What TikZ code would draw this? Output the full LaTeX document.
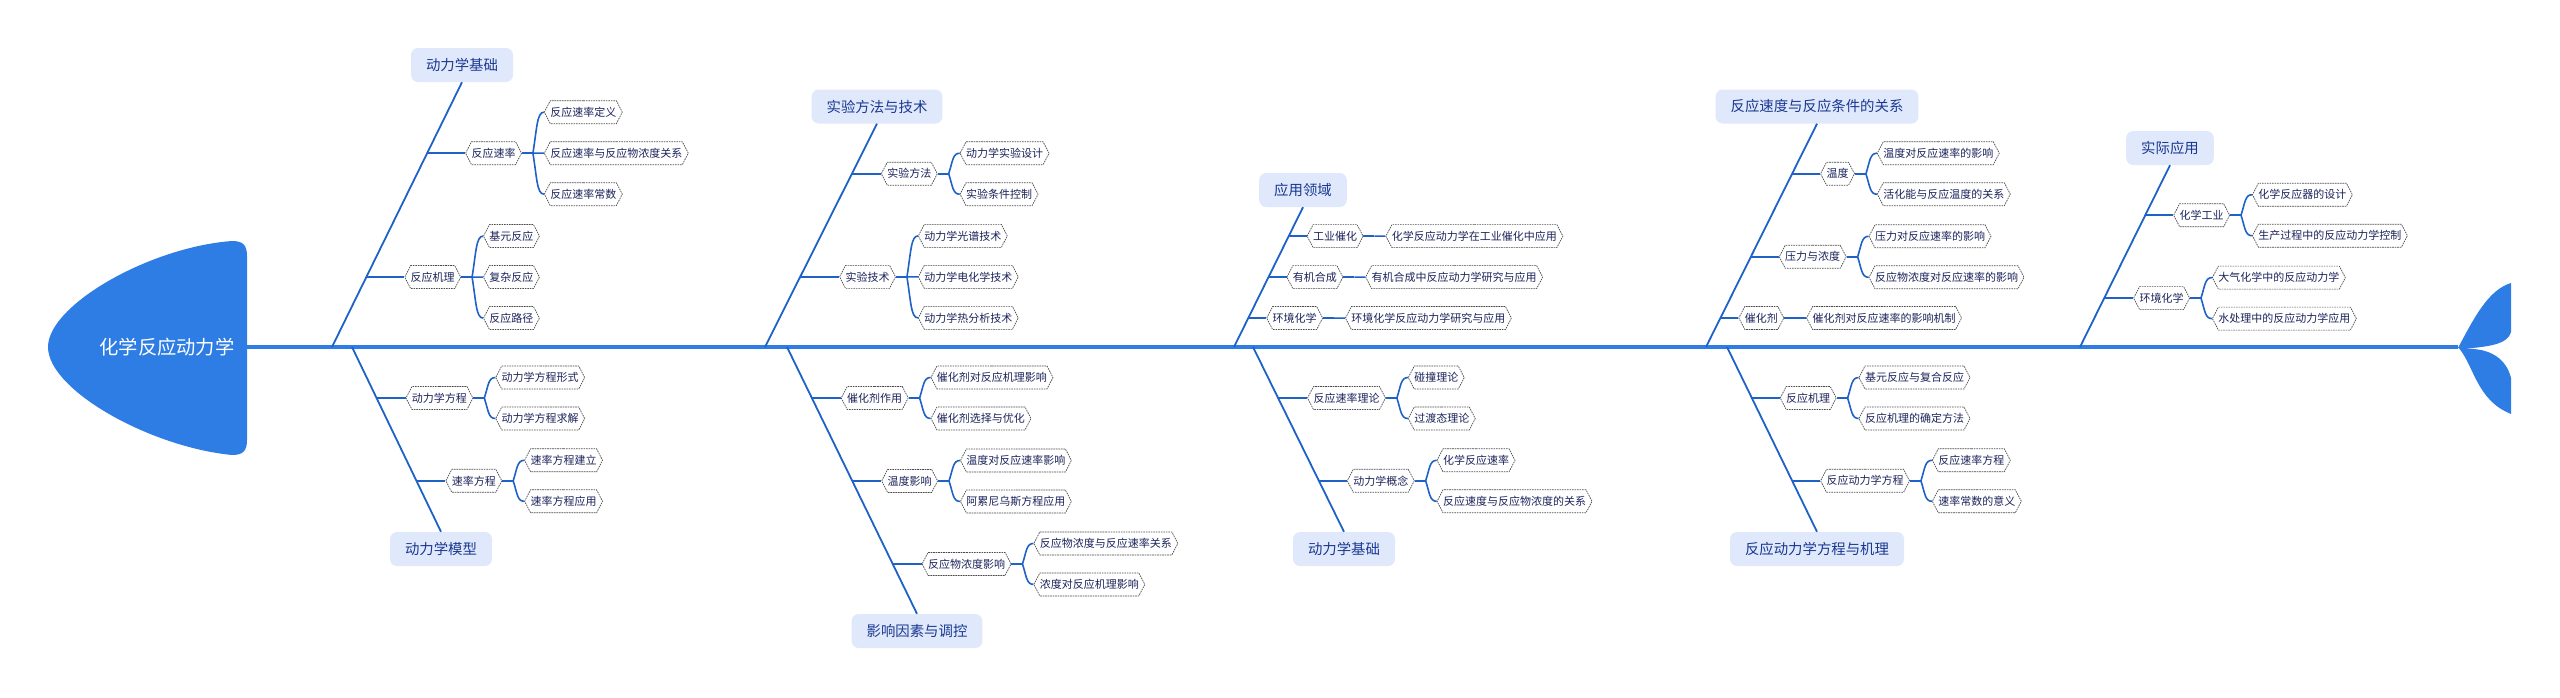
\documentclass[tikz,border=0pt]{standalone}
\usepackage{fontspec}
\newfontfamily\cjk{Noto Sans CJK SC}
\usetikzlibrary{shapes.symbols, positioning, calc}

\definecolor{spineblue}{RGB}{46,125,228}
\definecolor{bonebl}{RGB}{30,98,200}
\definecolor{titlebg}{RGB}{224,233,251}
\definecolor{titletxt}{RGB}{26,56,146}
\definecolor{leaftxt}{RGB}{28,36,90}

\begin{document}
\begin{tikzpicture}[
    x=1pt, y=-1pt,
    every node/.style={font=\cjk},
    hexa/.style={signal, signal to=east and west, signal pointer angle=125, draw=black!70, dash pattern=on 1.6pt off 0.9pt, line width=0.7pt, fill=white, text=leaftxt, font=\cjk\fontsize{11}{12}\selectfont, inner xsep=0pt, inner ysep=0pt, minimum height=23pt},
    title/.style={fill=titlebg, rounded corners=7pt, text=titletxt, font=\cjk\fontsize{14.4}{16}\selectfont, inner xsep=15pt, inner ysep=0pt, minimum height=34pt},
    bone/.style={draw=bonebl, line width=1.8pt},
    twig/.style={draw=bonebl, line width=1.6pt},
    spine/.style={draw=spineblue, line width=4.5pt}
]
\useasboundingbox (0,0) rectangle (2560,697);

% Spine, head and tail
\coordinate (headR) at (247,347);
\coordinate (tailL) at (2458,347);
\draw[spine] (headR) -- (tailL);
\fill[spineblue] (247,347) -- (247,256) .. controls (247,245) and (243,241) .. (232,241)
    .. controls (150,247) and (48,305) .. (48,347)
    .. controls (48,390) and (150,447) .. (232,455)
    .. controls (243,455) and (247,451) .. (247,440) -- cycle;
\node[text=white, font=\cjk\fontsize{19.3}{21}\selectfont] (head) at (167,347) {化学反应动力学};
\fill[spineblue] (2458,348) .. controls (2474,318) and (2488,290) .. (2511,283) -- (2511,332)
    .. controls (2508,344) and (2490,346) .. (2473,348) -- cycle;
\fill[spineblue] (2458,347) .. controls (2474,365) and (2476,400) .. (2511,414) -- (2511,378)
    .. controls (2506,358) and (2490,350) .. (2473,349) -- cycle;

% Titles
\node[title] (t1) at (462,65) {动力学基础};
\node[title] (t2) at (877,106.5) {实验方法与技术};
\node[title] (t3) at (1303,190) {应用领域};
\node[title] (t4) at (1817,106.5) {反应速度与反应条件的关系};
\node[title] (t5) at (2170,148) {实际应用};
\node[title] (b1) at (441,549) {动力学模型};
\node[title] (b2) at (917,631) {影响因素与调控};
\node[title] (b3) at (1344,549) {动力学基础};
\node[title] (b4) at (1817,549) {反应动力学方程与机理};

% Bones
\coordinate (s1) at (332,347);  \coordinate (s2) at (765,347);
\coordinate (s3) at (1234,347); \coordinate (s4) at (1706,347);
\coordinate (s5) at (2080,347);
\coordinate (r1) at (352,347);  \coordinate (r2) at (787,347);
\coordinate (r3) at (1253,347); \coordinate (r4) at (1727,347);

\draw[bone] (s1) -- coordinate[pos=0.732] (c1a) coordinate[pos=0.264] (c1b) (t1.south);
\draw[bone] (s2) -- coordinate[pos=0.776] (c2a) coordinate[pos=0.314] (c2b) (t2.south);
\draw[bone] (s3) -- coordinate[pos=0.793] (c3a) coordinate[pos=0.5] (c3b) coordinate[pos=0.207] (c3c) (t3.south);
\draw[bone] (s4) -- coordinate[pos=0.776] (c4a) coordinate[pos=0.404] (c4b) coordinate[pos=0.130] (c4c) (t4.south);
\draw[bone] (s5) -- coordinate[pos=0.725] (c5a) coordinate[pos=0.269] (c5b) (t5.south);
\draw[bone] (r1) -- coordinate[pos=0.276] (d1a) coordinate[pos=0.724] (d1b) (b1.north);
\draw[bone] (r2) -- coordinate[pos=0.191] (d2a) coordinate[pos=0.502] (d2b) coordinate[pos=0.813] (d2c) (b2.north);
\draw[bone] (r3) -- coordinate[pos=0.276] (d3a) coordinate[pos=0.724] (d3b) (b3.north);
\draw[bone] (r4) -- coordinate[pos=0.276] (d4a) coordinate[pos=0.724] (d4b) (b4.north);

% Branch nodes
\node[hexa, right=38pt of c1a] (n1a) {反应速率};
\node[hexa, right=38pt of c1b] (n1b) {反应机理};
\node[hexa, right=29pt of d1a] (n1c) {动力学方程};
\node[hexa, right=29pt of d1b] (n1d) {速率方程};
\node[hexa, right=29pt of c2a] (n2a) {实验方法};
\node[hexa, right=39pt of c2b] (n2b) {实验技术};
\node[hexa, right=29pt of d2a] (n2c) {催化剂作用};
\node[hexa, right=29pt of d2b] (n2d) {温度影响};
\node[hexa, right=29pt of d2c] (n2e) {反应物浓度影响};
\node[hexa, right=18pt of c3a] (n3a) {工业催化};
\node[hexa, right=18pt of c3b] (n3b) {有机合成};
\node[hexa, right=18pt of c3c] (n3c) {环境化学};
\node[hexa, right=29pt of d3a] (n3d) {反应速率理论};
\node[hexa, right=28pt of d3b] (n3e) {动力学概念};
\node[hexa, right=28pt of c4a] (n4a) {温度};
\node[hexa, right=28pt of c4b] (n4b) {压力与浓度};
\node[hexa, right=18pt of c4c] (n4c) {催化剂};
\node[hexa, right=28pt of d4a] (n4d) {反应机理};
\node[hexa, right=28pt of d4b] (n4e) {反应动力学方程};
\node[hexa, right=28pt of c5a] (n5a) {化学工业};
\node[hexa, right=29pt of c5b] (n5b) {环境化学};

\foreach \c/\n in {c1a/n1a, c1b/n1b, d1a/n1c, d1b/n1d, c2a/n2a, c2b/n2b, d2a/n2c, d2b/n2d, d2c/n2e,
    c3a/n3a, c3b/n3b, c3c/n3c, d3a/n3d, d3b/n3e, c4a/n4a, c4b/n4b, c4c/n4c, d4a/n4d, d4b/n4e,
    c5a/n5a, c5b/n5b}
  \draw[twig] (\c) -- (\n.west);

% Leaves
\node[hexa, right=22pt of n1a, yshift=41pt] (m1a1) {反应速率定义};
\node[hexa, right=22pt of n1a] (m1a2) {反应速率与反应物浓度关系};
\node[hexa, right=22pt of n1a, yshift=-41pt] (m1a3) {反应速率常数};
\node[hexa, right=22pt of n1b, yshift=41pt] (m1b1) {基元反应};
\node[hexa, right=22pt of n1b] (m1b2) {复杂反应};
\node[hexa, right=22pt of n1b, yshift=-41pt] (m1b3) {反应路径};
\node[hexa, right=22pt of n1c, yshift=20.5pt] (m1c1) {动力学方程形式};
\node[hexa, right=22pt of n1c, yshift=-20.5pt] (m1c2) {动力学方程求解};
\node[hexa, right=22pt of n1d, yshift=20.5pt] (m1d1) {速率方程建立};
\node[hexa, right=22pt of n1d, yshift=-20.5pt] (m1d2) {速率方程应用};

\node[hexa, right=22pt of n2a, yshift=20.5pt] (m2a1) {动力学实验设计};
\node[hexa, right=22pt of n2a, yshift=-20.5pt] (m2a2) {实验条件控制};
\node[hexa, right=22pt of n2b, yshift=41pt] (m2b1) {动力学光谱技术};
\node[hexa, right=22pt of n2b] (m2b2) {动力学电化学技术};
\node[hexa, right=22pt of n2b, yshift=-41pt] (m2b3) {动力学热分析技术};
\node[hexa, right=22pt of n2c, yshift=20.5pt] (m2c1) {催化剂对反应机理影响};
\node[hexa, right=22pt of n2c, yshift=-20.5pt] (m2c2) {催化剂选择与优化};
\node[hexa, right=22pt of n2d, yshift=20.5pt] (m2d1) {温度对反应速率影响};
\node[hexa, right=22pt of n2d, yshift=-20.5pt] (m2d2) {阿累尼乌斯方程应用};
\node[hexa, right=22pt of n2e, yshift=20.5pt] (m2e1) {反应物浓度与反应速率关系};
\node[hexa, right=22pt of n2e, yshift=-20.5pt] (m2e2) {浓度对反应机理影响};

\node[hexa, right=22pt of n3a] (m3a1) {化学反应动力学在工业催化中应用};
\node[hexa, right=22pt of n3b] (m3b1) {有机合成中反应动力学研究与应用};
\node[hexa, right=22pt of n3c] (m3c1) {环境化学反应动力学研究与应用};
\node[hexa, right=22pt of n3d, yshift=20.5pt] (m3d1) {碰撞理论};
\node[hexa, right=22pt of n3d, yshift=-20.5pt] (m3d2) {过渡态理论};
\node[hexa, right=22pt of n3e, yshift=20.5pt] (m3e1) {化学反应速率};
\node[hexa, right=22pt of n3e, yshift=-20.5pt] (m3e2) {反应速度与反应物浓度的关系};

\node[hexa, right=22pt of n4a, yshift=20.5pt] (m4a1) {温度对反应速率的影响};
\node[hexa, right=22pt of n4a, yshift=-20.5pt] (m4a2) {活化能与反应温度的关系};
\node[hexa, right=22pt of n4b, yshift=20.5pt] (m4b1) {压力对反应速率的影响};
\node[hexa, right=22pt of n4b, yshift=-20.5pt] (m4b2) {反应物浓度对反应速率的影响};
\node[hexa, right=22pt of n4c] (m4c1) {催化剂对反应速率的影响机制};
\node[hexa, right=22pt of n4d, yshift=20.5pt] (m4d1) {基元反应与复合反应};
\node[hexa, right=22pt of n4d, yshift=-20.5pt] (m4d2) {反应机理的确定方法};
\node[hexa, right=22pt of n4e, yshift=20.5pt] (m4e1) {反应速率方程};
\node[hexa, right=22pt of n4e, yshift=-20.5pt] (m4e2) {速率常数的意义};

\node[hexa, right=22pt of n5a, yshift=20.5pt] (m5a1) {化学反应器的设计};
\node[hexa, right=22pt of n5a, yshift=-20.5pt] (m5a2) {生产过程中的反应动力学控制};
\node[hexa, right=22pt of n5b, yshift=20.5pt] (m5b1) {大气化学中的反应动力学};
\node[hexa, right=22pt of n5b, yshift=-20.5pt] (m5b2) {水处理中的反应动力学应用};

% Twigs to leaves
\foreach \p/\ks in {n1a/{m1a1,m1a2,m1a3}, n1b/{m1b1,m1b2,m1b3}, n1c/{m1c1,m1c2}, n1d/{m1d1,m1d2},
    n2a/{m2a1,m2a2}, n2b/{m2b1,m2b2,m2b3}, n2c/{m2c1,m2c2}, n2d/{m2d1,m2d2}, n2e/{m2e1,m2e2},
    n3a/{m3a1}, n3b/{m3b1}, n3c/{m3c1}, n3d/{m3d1,m3d2}, n3e/{m3e1,m3e2},
    n4a/{m4a1,m4a2}, n4b/{m4b1,m4b2}, n4c/{m4c1}, n4d/{m4d1,m4d2}, n4e/{m4e1,m4e2},
    n5a/{m5a1,m5a2}, n5b/{m5b1,m5b2}} {
  \coordinate (j) at ($(\p.east)+(11pt,0pt)$);
  \draw[twig] (\p.east) -- (j);
  \foreach \k in \ks
    \draw[twig] (j) .. controls ($(j)!0.6!(j |- \k.west)+(4pt,0pt)$) and ($(j |- \k.west)+(4pt,0pt)$) .. (\k.west);
}
\end{tikzpicture}
\end{document}
